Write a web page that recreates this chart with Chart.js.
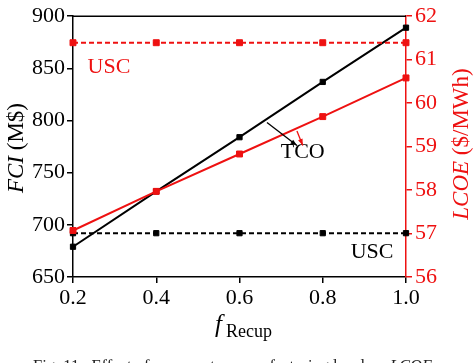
<!DOCTYPE html>
<html>
<head>
<meta charset="utf-8">
<script src="https://cdn.jsdelivr.net/npm/chart.js@4/dist/chart.umd.min.js"></script>
<style>
  html, body { margin: 0; padding: 0; background: #fff; }
  #wrap { width: 474px; height: 363px; }
</style>
</head>
<body>
<div id="wrap"><canvas id="chFCI" width="474" height="363"></canvas></div>
<script>
// data
var fRecup = [0.2, 0.4, 0.6, 0.8, 1.0];
var fciTCO = [679, 732, 784, 837, 889];
var fciUSC = [692, 692, 692, 692, 692];
var lcoeTCO = [57.07, 57.97, 58.83, 59.69, 60.58];
var lcoeUSC = [61.39, 61.39, 61.39, 61.39, 61.39];

var red = "#ee1111";
var serif = "'Liberation Serif', 'DejaVu Serif', serif";

function pts(xs, ys) {
  return xs.map(function (x, i) { return { x: x, y: ys[i] }; });
}

// text labels, arrows, axis titles and the top frame line
var decor = {
  id: "decor",
  afterDraw: function (chart) {
    var ctx = chart.ctx, a = chart.chartArea;
    var sx = chart.scales.x, sy = chart.scales.y;
    ctx.save();
    // top frame
    ctx.strokeStyle = "#000";
    ctx.lineWidth = 1.5;
    ctx.beginPath();
    ctx.moveTo(a.left, a.top);
    ctx.lineTo(a.right, a.top);
    ctx.stroke();

    ctx.textBaseline = "alphabetic";
    ctx.font = "22px " + serif;
    ctx.fillStyle = red;
    ctx.textAlign = "left";
    ctx.fillText("USC", sx.getPixelForValue(0.235), sy.getPixelForValue(846));
    ctx.fillStyle = "#000";
    ctx.fillText("TCO", sx.getPixelForValue(0.699), sy.getPixelForValue(764));
    ctx.fillText("USC", sx.getPixelForValue(0.867), sy.getPixelForValue(668));

    // arrows
    function arrow(x0, y0, x1, y1, col) {
      var p0 = [sx.getPixelForValue(x0), sy.getPixelForValue(y0)];
      var p1 = [sx.getPixelForValue(x1), sy.getPixelForValue(y1)];
      var ang = Math.atan2(p1[1] - p0[1], p1[0] - p0[0]);
      ctx.strokeStyle = col;
      ctx.fillStyle = col;
      ctx.lineWidth = 1.3;
      ctx.beginPath();
      ctx.moveTo(p0[0], p0[1]);
      ctx.lineTo(p1[0], p1[1]);
      ctx.stroke();
      ctx.beginPath();
      ctx.moveTo(p1[0], p1[1]);
      ctx.lineTo(p1[0] - 7 * Math.cos(ang - 0.35), p1[1] - 7 * Math.sin(ang - 0.35));
      ctx.lineTo(p1[0] - 7 * Math.cos(ang + 0.35), p1[1] - 7 * Math.sin(ang + 0.35));
      ctx.closePath();
      ctx.fill();
    }
    arrow(0.666, 798, 0.738, 776, "#000");
    arrow(0.738, 790, 0.752, 776, red);

    // x title: f_Recup
    ctx.fillStyle = "#000";
    ctx.textAlign = "left";
    ctx.font = "italic 25px " + serif;
    ctx.fillText("f", 215, 332);
    ctx.font = "18px " + serif;
    ctx.fillText("Recup", 226, 337);

    // left title: FCI (M$)
    ctx.save();
    ctx.translate(23, 148);
    ctx.rotate(-Math.PI / 2);
    ctx.textAlign = "left";
    ctx.font = "italic 23px " + serif;
    var w1 = ctx.measureText("FCI").width;
    ctx.font = "23px " + serif;
    var w2 = ctx.measureText(" (M$)").width;
    var x0 = -(w1 + w2) / 2;
    ctx.font = "italic 23px " + serif;
    ctx.fillText("FCI", x0, 0);
    ctx.font = "23px " + serif;
    ctx.fillText(" (M$)", x0 + w1, 0);
    ctx.restore();

    // right title: LCOE ($/MWh)
    ctx.save();
    ctx.translate(468, 144);
    ctx.rotate(-Math.PI / 2);
    ctx.fillStyle = red;
    ctx.font = "italic 23px " + serif;
    w1 = ctx.measureText("LCOE").width;
    ctx.font = "23px " + serif;
    w2 = ctx.measureText(" ($/MWh)").width;
    x0 = -(w1 + w2) / 2;
    ctx.font = "italic 23px " + serif;
    ctx.fillText("LCOE", x0, 0);
    ctx.font = "23px " + serif;
    ctx.fillText(" ($/MWh)", x0 + w1, 0);
    ctx.restore();

    // caption, cut off by the bottom edge
    ctx.fillStyle = "#222";
    ctx.font = "16.5px " + serif;
    ctx.textAlign = "left";
    var cap1 = "Fig. 11.  Effect of recuperator manufacturing level on ";
    ctx.fillText(cap1, 33, 371);
    var cw = ctx.measureText(cap1).width;
    ctx.font = "italic 16.5px " + serif;
    ctx.fillText("LCOE", 33 + cw, 371);
    ctx.restore();
  }
};

new Chart(document.getElementById("chFCI"), {
  type: "line",
  data: {
    datasets: [
      {
        data: pts(fRecup, lcoeTCO), yAxisID: "y2",
        borderColor: red, backgroundColor: red, borderWidth: 2,
        pointStyle: "rect", pointRadius: 4.2, pointBorderWidth: 1, order: 0
      },
      {
        data: pts(fRecup, lcoeUSC), yAxisID: "y2",
        borderColor: red, backgroundColor: red, borderWidth: 2, borderDash: [5, 3],
        pointStyle: "rect", pointRadius: 4.2, pointBorderWidth: 1, order: 1
      },
      {
        data: pts(fRecup, fciTCO), yAxisID: "y",
        borderColor: "#000", backgroundColor: "#000", borderWidth: 2,
        pointStyle: "rect", pointRadius: 3.7, pointBorderWidth: 1, order: 2
      },
      {
        data: pts(fRecup, fciUSC), yAxisID: "y",
        borderColor: "#000", backgroundColor: "#000", borderWidth: 2, borderDash: [5, 3],
        pointStyle: "rect", pointRadius: 3.7, pointBorderWidth: 1, order: 3
      }
    ]
  },
  options: {
    responsive: false,
    animation: false,
    clip: false,
    layout: { padding: { top: 10, left: 0, right: 0, bottom: 0 } },
    plugins: { legend: { display: false }, tooltip: { enabled: false } },
    scales: {
      x: {
        type: "linear", position: "bottom", min: 0.2, max: 1.0,
        afterFit: function (s) { s.height = 86; },
        border: { color: "#000", width: 1.5 },
        grid: { drawOnChartArea: false, color: "#000", tickLength: 6, lineWidth: 1.5 },
        ticks: {
          stepSize: 0.2, color: "#000", padding: 2, maxRotation: 0,
          font: { family: serif, size: 22 },
          callback: function (v) { return v.toFixed(1); }
        }
      },
      y: {
        position: "left", min: 650, max: 900,
        afterFit: function (s) { s.width = 73; },
        border: { color: "#000", width: 1.5 },
        grid: { drawOnChartArea: false, color: "#000", tickLength: 6, lineWidth: 1.5 },
        ticks: { stepSize: 50, color: "#000", padding: 2, font: { family: serif, size: 22 } }
      },
      y2: {
        position: "right", min: 56, max: 62,
        afterFit: function (s) { s.width = 68; },
        border: { color: red, width: 1.5 },
        grid: { drawOnChartArea: false, color: red, tickLength: 6, lineWidth: 1.5 },
        ticks: { stepSize: 1, color: red, padding: 3, font: { family: serif, size: 22 } }
      }
    }
  },
  plugins: [decor]
});
</script>
</body>
</html>
